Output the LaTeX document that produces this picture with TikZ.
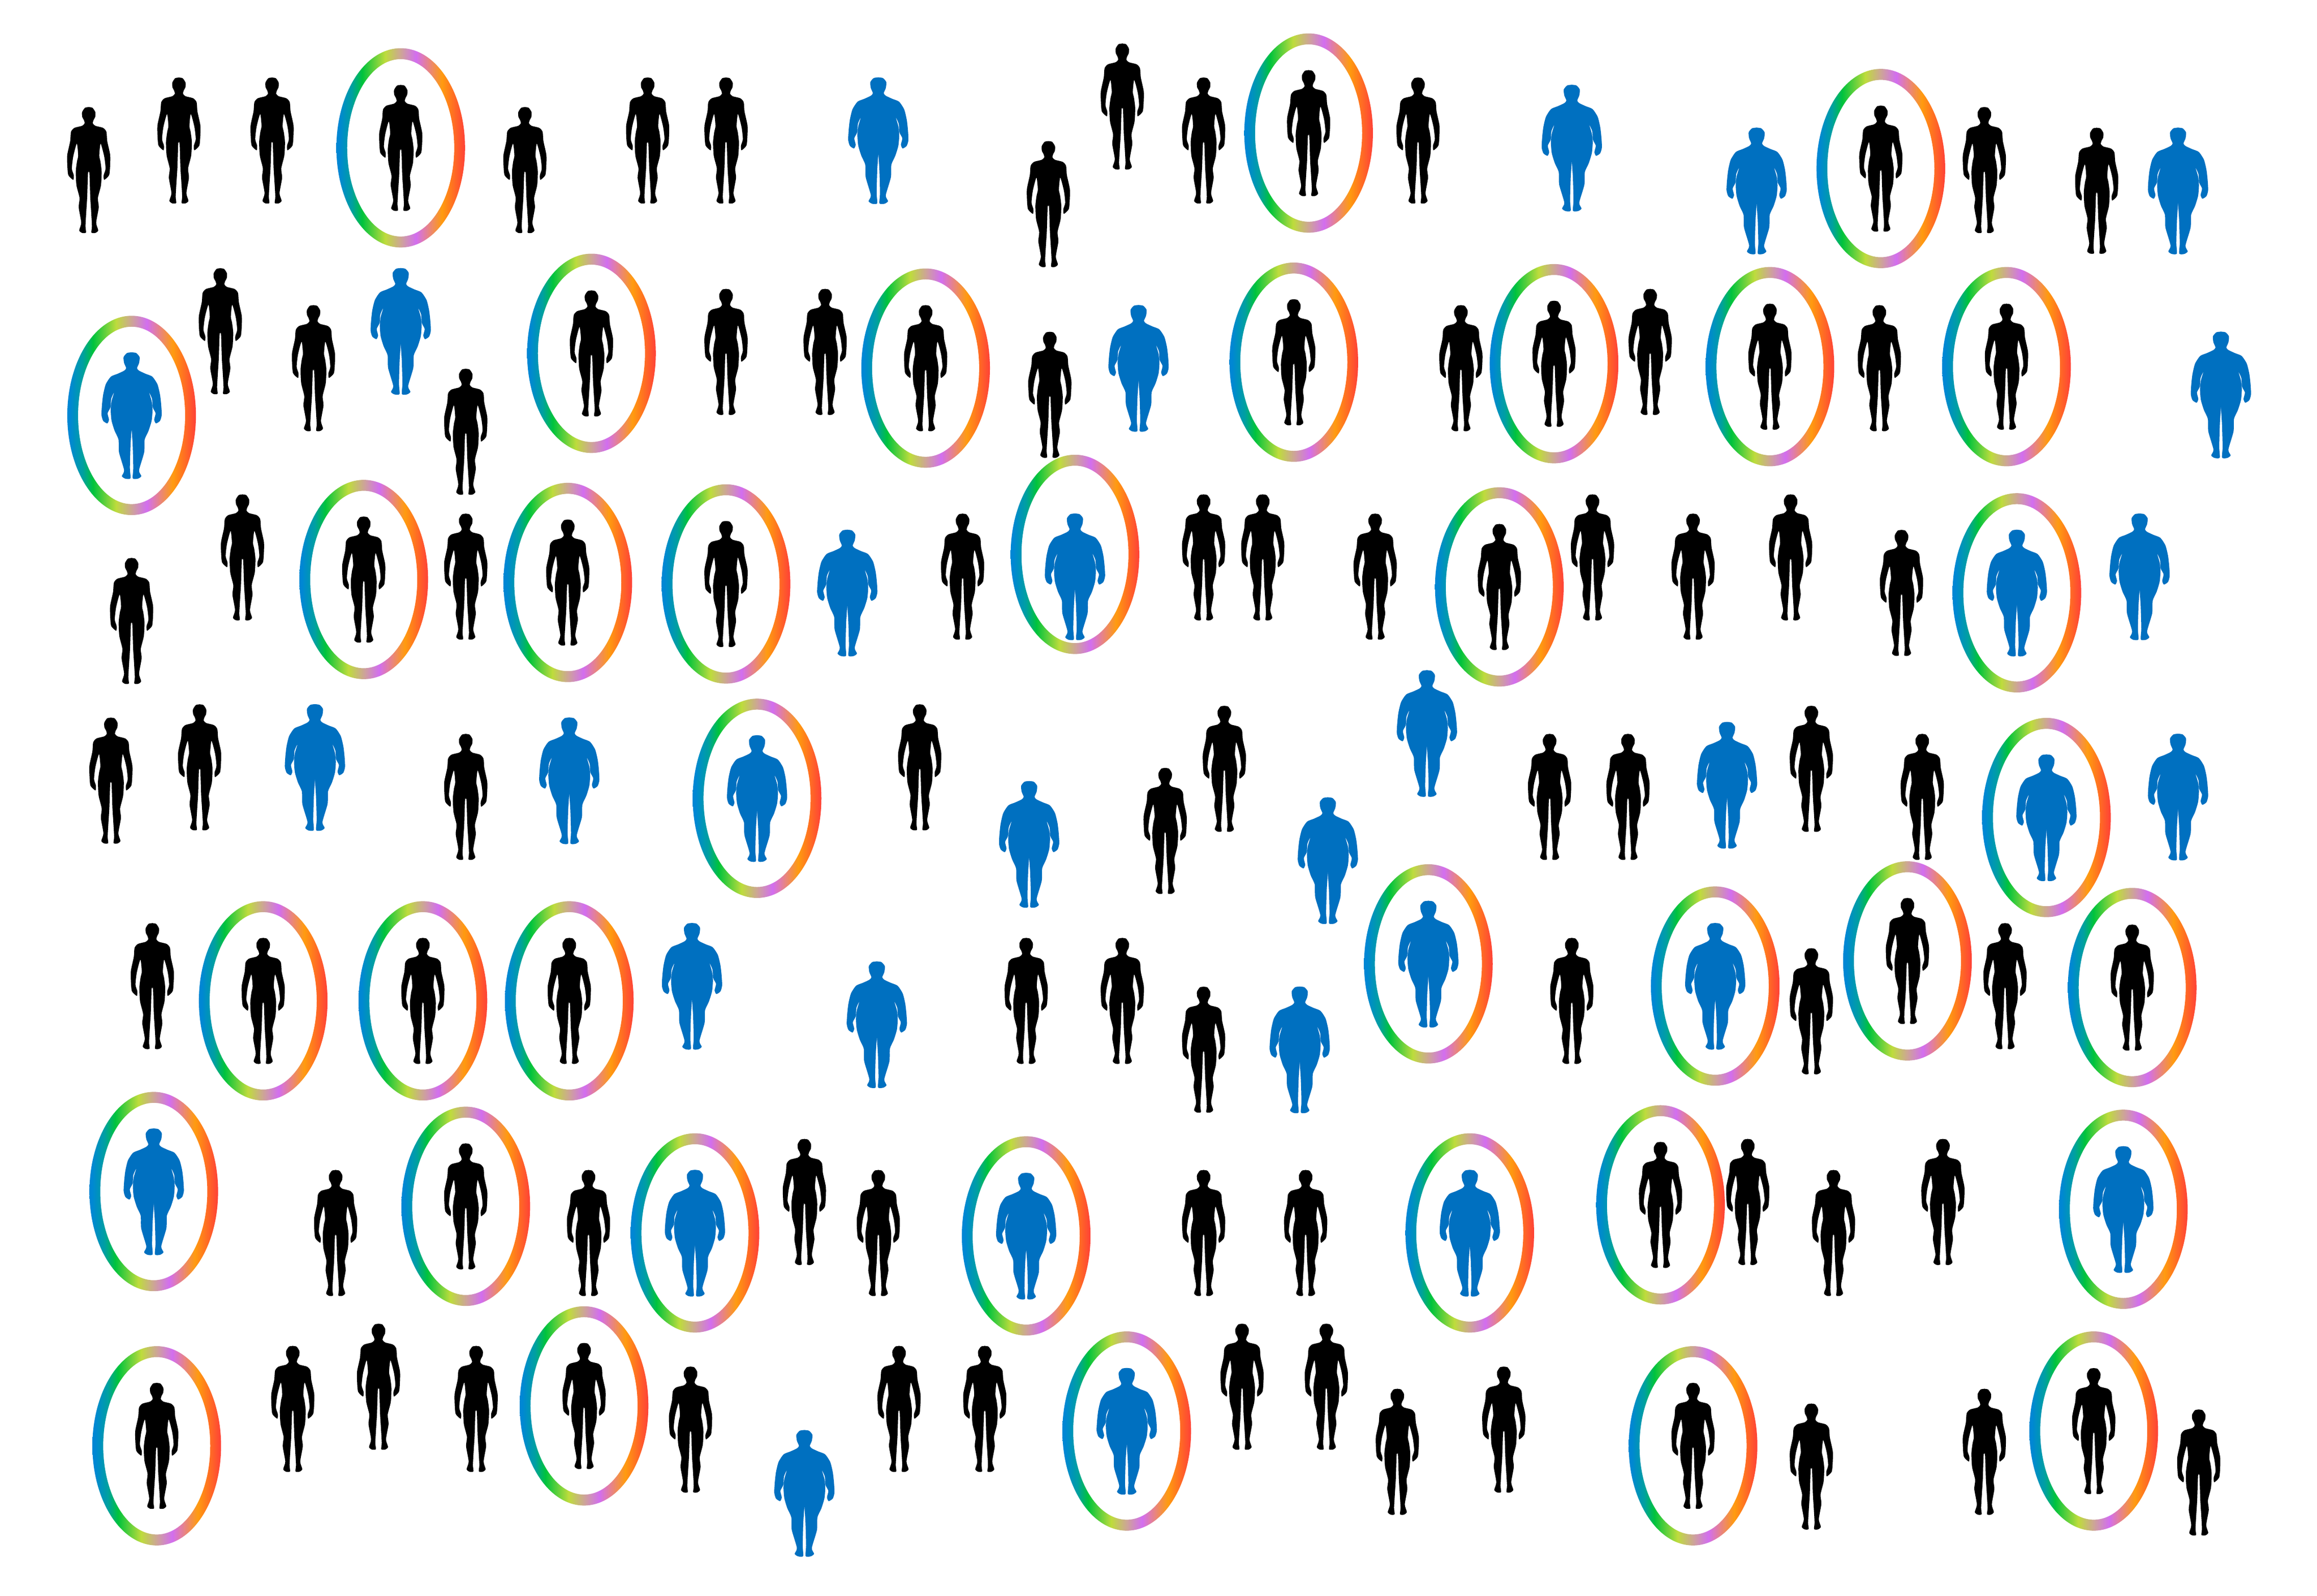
\documentclass[tikz,border=0pt]{standalone}
\usepackage{tikz}

\definecolor{obeseblue}{RGB}{0,112,192}
\definecolor{rbBlue}{RGB}{0,135,212}
\definecolor{rbTeal}{RGB}{0,160,160}
\definecolor{rbGreen}{RGB}{0,195,60}
\definecolor{rbLime}{RGB}{190,220,60}
\definecolor{rbTan}{RGB}{205,165,150}
\definecolor{rbPurple}{RGB}{210,110,240}
\definecolor{rbOrange}{RGB}{255,155,15}
\definecolor{rbRed}{RGB}{255,65,55}
\pgfdeclarehorizontalshading{ringbow}{100bp}{
  color(0bp)=(rbBlue); color(26bp)=(rbBlue); color(31bp)=(rbTeal); color(35bp)=(rbGreen);
  color(44bp)=(rbLime); color(50bp)=(rbTan); color(56bp)=(rbPurple);
  color(66bp)=(rbOrange); color(75bp)=(rbRed); color(100bp)=(rbRed)}

\tikzset{
  slimman/.pic={
    \foreach \s in {1,-1}
    \fill[black,xscale=.115*\s,yscale=.115] plot[smooth,tension=.4] coordinates {
      (-2,-370) (22,-366) (39,-340) (38,-312) (29,-295) (24,-275) (39,-260) (84,-248) (104,-225)
      (109,-170) (126,-90) (126,-30) (120,30) (91,58) (88,30) (99,-8) (91,-80) (70,-155)
      (62,-85) (69,-50) (76,10) (72,90) (54,165) (59,220) (44,310) (56,355) (39,370) (16,368)
      (19,330) (14,240) (9,160) (4,15) (-2,15)} -- cycle;
  },
  obeseman/.pic={
    \foreach \s in {1,-1}
    \fill[obeseblue,xscale=.115*\s,yscale=.115] plot[smooth,tension=.4] coordinates {
      (-2,-371) (27,-367) (47,-343) (44,-308) (32,-278) (44,-263) (82,-245) (122,-228) (152,-183)
      (167,-123) (174,-63) (177,-3) (167,32) (143,47) (133,25) (141,-13) (124,-48) (120,-98) (103,-135)
      (118,-83) (123,-33) (118,30) (100,90) (77,142) (74,217) (44,322) (57,357) (37,372) (7,370)
      (10,307) (6,167) (-2,54)} -- cycle;
  },
  rainbowring/.pic={
    \shade[even odd rule,shading=ringbow] (0,0) ellipse [x radius=43.5,y radius=67.4]
      (0,0) ellipse [x radius=36.2,y radius=60];
  }
}

\begin{document}
\begin{tikzpicture}[x=0.02cm,y=-0.02cm]
\fill[white] (0,0) rectangle (1567,1079.6);
\useasboundingbox (0,0) rectangle (1567,1079.6);
\foreach \x/\y in {60/115,121/95,184/95,355/115,438/95,491/95,709/138,759/72,814/95,959/95,1342/115,1418/129,
  149/224,212/249,315/292,491/238,558/238,710/267,988/249,1116/238,1271/249,
  89/420,164/377,315/390,651/390,814/377,854/377,930/390,1077/377,1145/390,1211/377,1286/401,
  75/528,135/519,315/539,622/519,788/562,828/520,1048/539,1101/539,1225/520,1300/539,
  103/667,694/677,759/677,814/710,1063/677,1225/684,1356/667,
  227/834,398/834,544/813,594/834,814/834,883/834,1182/813,1240/834,1314/813,
  198/953,256/938,322/953,467/967,608/953,666/953,840/938,897/938,945/982,1017/967,1225/992,1342/982,1487/996}
  \pic at (\x,\y) {slimman};
\foreach \x/\y in {594/95,1063/100,1188/129,1473/129,271/224,770/249,1502/267,573/401,1447/390,
  213/519,385/528,696/571,965/496,898/582,1168/531,1473/539,468/667,593/693,879/710,544/1010}
  \pic at (\x,\y) {obeseman};
\foreach \x/\y in {271/100,885/90,1272/114,400/239,626/249,875/245,1051/246,1197/248,1357/248,
  246/392,384/394,491/395,1014/397,178/677,286/677,385/677,1290/650,1442/668,
  315/816,1123/815,106/978,395/951,1145/978,1416/968}{
  \pic at (\x,\y) {rainbowring};
  \pic at (\x,\y) {slimman};
}
\foreach \x/\y in {89/281,1364/401,512/540,1384/553,966/652,1160/667,
  104/806,470/834,694/836,994/834,1436/818,762/968}{
  \pic at (\x,\y) {rainbowring};
  \pic at (\x,\y) {obeseman};
}
\pic at (727,375) {rainbowring};
\pic at (727,390) {obeseman};
\end{tikzpicture}
\end{document}
